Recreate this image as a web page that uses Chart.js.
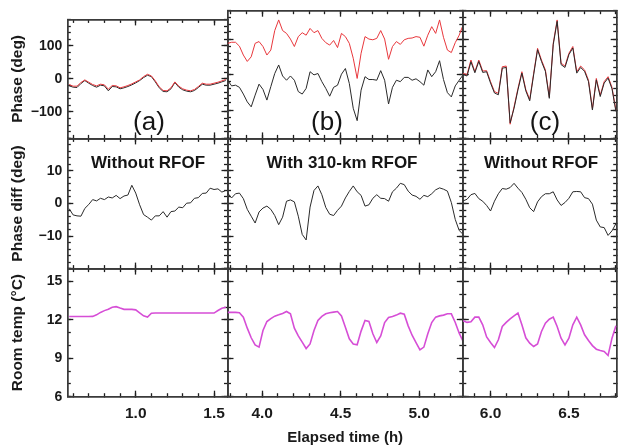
<!DOCTYPE html>
<html>
<head>
<meta charset="utf-8">
<script src="https://cdn.jsdelivr.net/npm/chart.js@4.4.0/dist/chart.umd.min.js"></script>
<style>
  body { margin: 0; background: #fff; }
  #wrap { position: relative; width: 621px; height: 447px; }
  #wrap canvas { position: absolute; left: 0; top: 0; }
</style>
</head>
<body>
<div id="wrap"></div>
<script>
// Elapsed time (h) for each column of panels
const timeA = [0.575,0.6,0.625,0.65,0.675,0.7,0.725,0.75,0.775,0.8,0.825,0.85,0.875,0.9,0.925,0.95,0.975,1.0,1.025,1.05,1.075,1.1,1.125,1.15,1.175,1.2,1.225,1.25,1.275,1.3,1.325,1.35,1.375,1.4,1.425,1.45,1.475,1.5,1.525,1.55,1.575];
const timeB = [3.78,3.805,3.83,3.855,3.88,3.905,3.93,3.955,3.98,4.005,4.03,4.055,4.08,4.105,4.13,4.155,4.18,4.205,4.23,4.255,4.28,4.305,4.33,4.355,4.38,4.405,4.43,4.455,4.48,4.505,4.53,4.555,4.58,4.605,4.63,4.655,4.68,4.705,4.73,4.755,4.78,4.805,4.83,4.855,4.88,4.905,4.93,4.955,4.98,5.005,5.03,5.055,5.08,5.105,5.13,5.155,5.18,5.205,5.23,5.255,5.28];
const timeC = [5.825,5.85,5.875,5.9,5.925,5.95,5.975,6.0,6.025,6.05,6.075,6.1,6.125,6.15,6.175,6.2,6.225,6.25,6.275,6.3,6.325,6.35,6.375,6.4,6.425,6.45,6.475,6.5,6.525,6.55,6.575,6.6,6.625,6.65,6.675,6.7,6.725,6.75,6.775,6.8];

// Phase (deg), black and red traces
const phaseA_black = [-21,-25,-26,-14,-5,-13,-20,-25,-19,-21,-36,-23,-24,-30,-27,-23,-18,-12,-5,4,11,7,-9,-27,-38,-39,-30,-11,-25,-33,-37,-39,-35,-26,-16,-19,-19,-16,-13,-9,-5];
const phaseA_red   = [-17,-22,-22,-11,-3,-10,-17,-21,-16,-18,-31,-20,-21,-27,-24,-20,-15,-9,-3,7,14,9,-6,-24,-35,-36,-27,-9,-22,-30,-34,-36,-32,-23,-13,-16,-16,-13,-10,-6,-2];
const phaseB_red   = [88,91,91,80,55,37,50,88,93,79,55,69,124,154,124,116,100,79,107,118,111,130,118,124,102,90,83,96,76,116,107,88,46,-11,60,107,100,98,102,124,100,43,79,93,85,98,102,103,107,105,80,111,135,116,154,105,69,62,90,111,140];
const phaseB_black = [-16,-32,-30,-36,-55,-77,-91,-58,-27,-42,-72,-34,3,27,-4,-16,-4,-16,-48,-55,-39,8,-1,3,-20,-39,-61,-36,-30,1,17,-25,-95,-130,-44,-6,-14,-14,-16,11,-16,-83,-36,-16,-20,-8,-8,-16,-12,-20,-30,13,-6,8,39,-14,-51,-63,-32,-16,-1];
const phaseC_red   = [3,0,41,8,41,10,11,-20,-48,-53,22,24,-140,-91,-39,8,-42,-70,3,74,41,13,-63,88,154,32,24,60,79,8,24,13,-16,-96,-11,-58,-20,-6,-36,-100];
const phaseC_black = [0,-4,36,5,37,6,8,-24,-52,-57,18,20,-136,-95,-43,4,-46,-74,-1,70,37,9,-67,84,150,28,20,56,75,4,20,9,-20,-100,-15,-62,-24,-10,-40,-104];

// Phase diff (deg)
const diffA = [-1.6,-3.5,-3.8,-3.9,-1.5,-0.3,1.2,0.8,1.6,1.2,2.0,1.7,2.5,1.5,2.3,2.6,5.6,3.2,-0.4,-3.4,-4.2,-5.1,-3.8,-3.8,-2.5,-4.2,-2.5,-2.3,-1.1,-1.3,0.1,0.2,1.6,1.8,3.1,3.2,4.7,4.3,4.5,3.5,4.0];
const diffB = [3.2,1.7,3.0,3.2,1.5,-1.8,-3.9,-6.0,-2.6,-1.4,-0.8,-1.8,-3.7,-6.5,-4.2,0.7,1.1,0.5,-3.9,-9.5,-11.2,-1.1,4.0,5.4,2.7,-1.2,-3.3,-3.7,-2.1,-0.8,1.7,3.7,5.4,3.6,2.5,-0.8,-0.4,1.6,2.7,1.6,1.5,0.7,3.6,4.7,6.2,5.8,3.8,2.6,2.2,1.3,2.5,2.1,3.0,4.2,4.8,4.4,3.8,0.3,-4.9,-8.3,-9.5];
const diffC = [0.8,1.3,2.7,3.1,1.5,0.7,-0.6,-2.3,0.7,3.0,4.6,4.4,4.9,6.2,4.7,3.4,1.3,-1.3,-2.5,0.5,2.1,3.0,3.0,3.6,1.1,-0.6,0.3,1.6,3.6,3.7,3.6,1.8,1.5,-0.2,-5.1,-7.2,-7.4,-9.8,-8.4,-6.2];

// Room temperature (°C)
const tempA = [12.26,12.26,12.26,12.26,12.26,12.26,12.27,12.39,12.58,12.72,12.83,12.98,13.03,12.92,12.82,12.82,12.82,12.78,12.55,12.31,12.22,12.52,12.53,12.53,12.53,12.53,12.53,12.53,12.53,12.53,12.53,12.53,12.53,12.53,12.53,12.53,12.53,12.53,12.73,12.9,12.98];
const tempB = [12.58,12.58,12.58,12.55,12.21,11.35,10.6,10.05,9.87,11.17,11.87,12.1,12.29,12.39,12.5,12.65,12.47,11.35,10.75,10.26,9.76,10.12,11.17,11.95,12.27,12.47,12.55,12.6,12.65,12.31,11.43,10.52,10.12,10.05,11.12,11.95,11.87,10.91,10.23,10.75,11.79,12.18,12.26,12.37,12.52,12.44,11.53,10.8,10.23,9.66,9.87,10.91,11.79,12.21,12.31,12.37,12.47,12.47,11.79,10.96,10.31];
const tempC = [11.93,11.8,11.85,12.21,12.21,11.61,10.67,10.23,9.84,10.44,11.48,11.8,12.08,12.31,12.53,11.61,10.6,10.18,9.92,10.12,11.09,11.74,12.05,12.21,11.48,10.57,10.05,10.57,11.61,12.21,11.61,10.83,10.39,9.99,9.71,9.61,9.53,9.22,10.57,11.53];

// Axis ranges and tick labels
const xRanges = [[0.563, 1.586], [3.779, 5.278], [5.823, 6.805]];
const yRanges = [[-180, 180], [-20, 20], [6, 16]];
const yMajorStep = [100, 10, 3];
const yMinorStep = [20, 2, 1];
const yTickLabels = [[-100, 0, 100], [-10, 0, 10], [6, 9, 12, 15]];
const yTitles = ['Phase (deg)', 'Phase diff (deg)', 'Room temp (°C)'];
const xTitle = 'Elapsed time (h)';
const panelTags = ['(a)', '(b)', '(c)'];
const panelNotes = ['Without RFOF', 'With 310-km RFOF', 'Without RFOF'];

// Page layout (px)
const W = 621, H = 447;
const colEdges = [67.3, 227.5, 462.8, 616.7];
const rowEdges = [10.7, 138.4, 268.6, 396.7];
const FONT = "'Liberation Sans', Arial, sans-serif";
const BLACK = '#2a2a2a', RED = '#e8373c', MAGENTA = '#d64ed6', FRAME = '#3a3a3a', TICK = '#1e1e1e';

const times = [timeA, timeB, timeC];
const series = [
  [[[phaseA_red, RED], [phaseA_black, BLACK]],
   [[phaseB_red, RED], [phaseB_black, BLACK]],
   [[phaseC_black, BLACK], [phaseC_red, RED]]],
  [[[diffA, BLACK]], [[diffB, BLACK]], [[diffC, BLACK]]],
  [[[tempA, MAGENTA]], [[tempB, MAGENTA]], [[tempC, MAGENTA]]]
];

// small plugin for the in-panel captions
const panelText = {
  id: 'panelText',
  afterDraw(chart, args, opts) {
    const ctx = chart.ctx;
    (opts.items || []).forEach(it => {
      ctx.save();
      ctx.font = it.font;
      ctx.fillStyle = '#151515';
      ctx.textAlign = 'center';
      ctx.textBaseline = 'middle';
      ctx.fillText(it.text, it.x, it.y);
      ctx.restore();
    });
  }
};

// frame axis with inward ticks (negative tick length)
function edgeAxis(pos, min, max, step, len, weight) {
  return {
    type: 'linear', position: pos, min: min, max: max, weight: weight,
    grid: { drawOnChartArea: false, drawTicks: true, tickLength: -len, tickColor: TICK, tickWidth: 1.3 },
    border: { display: true, color: FRAME, width: 1.5 },
    ticks: { display: false, stepSize: step, includeBounds: false, maxTicksLimit: 1000, autoSkip: false },
    afterFit: s => { if (s.isHorizontal()) s.height = 0; else s.width = 0; }
  };
}

const captionItems = [
  [{ text: panelTags[0], x: 149, y: 123 }, { text: panelTags[1], x: 327, y: 123 }, { text: panelTags[2], x: 545, y: 123 }],
  [{ text: panelNotes[0], x: 148, y: 163 }, { text: panelNotes[1], x: 342, y: 163 }, { text: panelNotes[2], x: 541, y: 163 }]
];

const wrap = document.getElementById('wrap');

for (let r = 0; r < 3; r++) {
  for (let c = 0; c < 3; c++) {
    const canvas = document.createElement('canvas');
    canvas.width = W; canvas.height = H;
    wrap.appendChild(canvas);

    const [x0, x1] = xRanges[c];
    const [y0, y1] = yRanges[r];
    const scales = {
      x: edgeAxis('bottom', x0, x1, 0.5, 6, 1),
      xm: edgeAxis('bottom', x0, x1, 0.1, 3.5, 0),
      xt: edgeAxis('top', x0, x1, 0.5, 6, 1),
      xtm: edgeAxis('top', x0, x1, 0.1, 3.5, 0),
      y: edgeAxis('left', y0, y1, yMajorStep[r], 6, 1),
      ym: edgeAxis('left', y0, y1, yMinorStep[r], 3.5, 0),
      yr: edgeAxis('right', y0, y1, yMajorStep[r], 6, 1),
      yrm: edgeAxis('right', y0, y1, yMinorStep[r], 3.5, 0)
    };

    const pad = {
      left: colEdges[c],
      right: W - colEdges[c + 1],
      top: rowEdges[r],
      bottom: H - rowEdges[r + 1]
    };

    if (c === 0) {
      const labs = yTickLabels[r];
      scales.y.ticks.display = true;
      scales.y.ticks.padding = 11;
      scales.y.ticks.color = '#1a1a1a';
      scales.y.ticks.font = { family: FONT, size: 14, weight: 'bold' };
      scales.y.ticks.callback = v => labs.includes(v) ? String(v).replace('-', '\u2212') : '';
      scales.y.title = { display: true, text: yTitles[r], color: '#1a1a1a',
        font: { family: FONT, size: 15.5, weight: 'bold' }, padding: { top: 8, bottom: 0 } };
      scales.y.afterFit = s => { s.width = colEdges[0]; };
      pad.left = 0;
    }
    if (r === 2) {
      scales.x.ticks.display = true;
      scales.x.ticks.padding = 14;
      scales.x.ticks.color = '#1a1a1a';
      scales.x.ticks.font = { family: FONT, size: 15.5, weight: 'bold' };
      scales.x.ticks.callback = v => v.toFixed(1);
      // labels are clipped to the scale box, so give it the bottom strip
      scales.x.afterFit = s => { s.height = H - rowEdges[3]; };
      pad.bottom = 0;
      if (c === 1) {
        scales.x.title = { display: true, text: xTitle, color: '#1a1a1a',
          font: { family: FONT, size: 15, weight: 'bold' }, padding: { top: 0, bottom: 0 } };
      }
    }

    const datasets = series[r][c].map(([vals, color]) => ({
      data: times[c].map((t, i) => ({ x: t, y: vals[i] })),
      borderColor: color,
      borderWidth: r === 2 ? 1.6 : 1,
      pointRadius: 0,
      tension: 0,
      xAxisID: 'x',
      yAxisID: 'y'
    }));

    let items = [];
    if (r === 0) items = [Object.assign({ font: '26px ' + FONT }, captionItems[0][c])];
    if (r === 1) items = [Object.assign({ font: 'bold 17px ' + FONT }, captionItems[1][c])];

    new Chart(canvas, {
      type: 'line',
      data: { datasets: datasets },
      options: {
        responsive: false,
        animation: false,
        events: [],
        layout: { padding: pad },
        scales: scales,
        plugins: {
          legend: { display: false },
          tooltip: { enabled: false },
          panelText: { items: items }
        }
      },
      plugins: [panelText]
    });
  }
}
</script>
</body>
</html>
